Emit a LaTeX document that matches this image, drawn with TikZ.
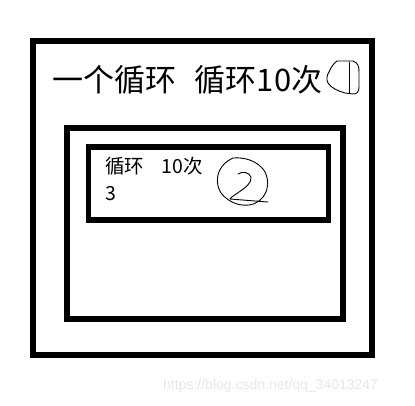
\documentclass[tikz,border=0pt]{standalone}
\usepackage{fontspec}
\newfontfamily\cjk{Noto Sans CJK SC}
\newfontfamily\wm{Liberation Sans}
\begin{document}
\begin{tikzpicture}[x=1pt,y=-1pt,
  frame/.style={draw=black,line width=5.5pt},
  hand/.style={draw=black,line width=0.9pt,line join=round,line cap=round},
  lbl/.style={inner sep=0pt,anchor=west,font=\cjk}]
\useasboundingbox[fill=white] (0,0) rectangle (415,405);
\node[frame,minimum width=339pt,minimum height=314pt,inner sep=0pt] (outer) at (202.5,198) {};
\node[frame,minimum width=276pt,minimum height=191pt,inner sep=0pt] (mid) at (205,223.5) {};
\node[frame,minimum width=240pt,minimum height=73pt,inner sep=0pt] (inner) at (208.5,183.5) {};
\node[lbl,font=\cjk\fontsize{31}{34}\selectfont] (t1) at (52,80) {一个循环\hspace{0.6em}循环10次};
\node[lbl,font=\cjk\fontsize{19.5}{22}\selectfont] (t2) at (105,166) {循环\hspace{0.9em}10次};
\node[lbl,font=\cjk\fontsize{19.5}{22}\selectfont] (t3) at (105,194) {3};
% hand-drawn circled 1
\draw[hand] (337,61) -- (353,61) .. controls (358,63) and (359,66) .. (359,72) -- (359,87)
  .. controls (359,92) and (357,94) .. (353,94) -- (345,93) .. controls (338,91) and (331,88) .. (328,83)
  .. controls (326,79) and (327,75) .. (329,72) .. controls (331,67) and (334,63) .. (337,61);
\draw[hand] (349,62) -- (349,93);
% hand-drawn circled 2
\draw[hand] (233,158) .. controls (226,161) and (220,167) .. (218,175) .. controls (216,184) and (219,193) .. (226,198)
  .. controls (232,203) and (240,206) .. (249,205) .. controls (257,204) and (263,199) .. (266,192)
  .. controls (269,184) and (268,173) .. (261,167) .. controls (255,161) and (245,157) .. (233,158);
\draw[hand] (238,174) .. controls (242,171) and (249,172) .. (251,177) .. controls (252,183) and (245,188) .. (239,192)
  .. controls (235,195) and (231,197) .. (230,199) -- (268,202);
\node[inner sep=0pt,anchor=west,text=black!9,font=\wm\fontsize{14}{16}\selectfont] (wm) at (163,386) {https://blog.csdn.net/qq\_34013247};
\end{tikzpicture}
\end{document}
